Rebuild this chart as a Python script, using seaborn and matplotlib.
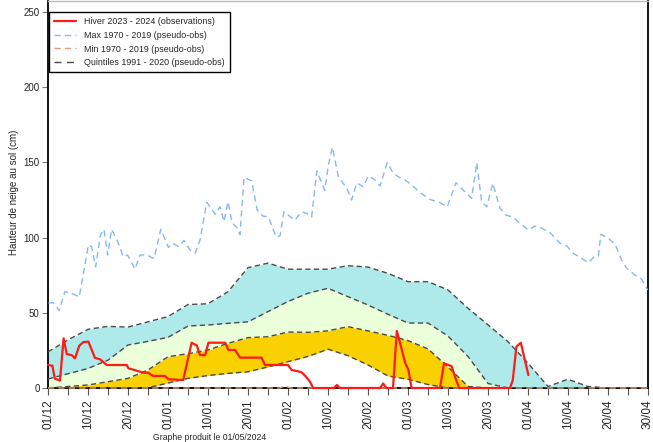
import matplotlib
matplotlib.use("Agg")
import matplotlib.pyplot as plt
import seaborn as sns
from matplotlib.lines import Line2D
from matplotlib.ticker import MultipleLocator

# x axis: 0 = 01/12, 150 = 30/04, one label every 10 units (evenly spaced)
tick_labels = ["01/12", "10/12", "20/12", "01/01", "10/01", "20/01", "01/02",
               "10/02", "20/02", "01/03", "10/03", "20/03", "01/04", "10/04",
               "20/04", "30/04"]

# quintiles, one value every 5 units
q_x = list(range(0, 151, 5))
q80 = [24, 32, 39, 41, 40.5, 44, 47.5, 55.5, 56, 64, 80, 83, 79, 79, 79, 81.3,
       80.4, 76.2, 70.7, 70.7, 65.2, 53, 42, 30.8, 16.5, 1, 5.8, 1, 0, 0, 0]
q60 = [6, 9.5, 13, 18.5, 28.6, 31, 33.7, 41.2, 41.9, 43, 44, 50.8, 57.5, 63,
       66.3, 60.7, 55.2, 49, 43.2, 43.2, 34.5, 21, 3, 0, 0, 0, 0, 0, 0, 0, 0]
q40 = [0, 1, 2, 4.2, 6.4, 12, 20.8, 22.8, 25.3, 29.7, 33.5, 34.1, 37.2, 37, 38,
       40.8, 38, 35, 31.5, 26, 14, 1, 0, 0, 0, 0, 0, 0, 0, 0, 0]
q20 = [0, 0, 0, 0, 0, 0.2, 3.3, 6.4, 8.3, 9.7, 10.8, 14, 17.5, 21, 25.8, 21.5,
       15.3, 8, 5.8, 2.3, 0, 0, 0, 0, 0, 0, 0, 0, 0, 0, 0]

# max 1970 - 2019
max_x = [0.1, 1.3, 2.8, 4.2, 5.9, 7.8, 10.1, 10.9, 11.9, 13.1, 14, 14.9, 15.9,
         17.6, 18.8, 19.9, 21.75, 23, 24.8, 26.5, 28.2, 30.1, 31.2, 32.6, 34,
         35.5, 36.8, 38, 39.7, 41.8, 43, 44, 45, 46, 47.2, 48, 49, 50.9, 52.3,
         53.8, 55.1, 57, 58, 59, 61.7, 63.4, 64.7, 65.9, 67.2, 69.2, 70.1,
         71.1, 72.6, 74.7, 75.9, 77.2, 78.8, 80.1, 81.75, 83, 84.8, 86.3,
         87.6, 89.25, 90.9, 93, 95.5, 98, 99.8, 102, 103.8, 105.9, 107.2,
         108.4, 109.7, 111.2, 113, 114.5, 116.3, 118, 120.1, 121.75, 123.4,
         125.5, 128, 129.7, 131.3, 133.4, 135.1, 136.75, 137.6, 138.2, 140.1,
         141.75, 143.4, 144.7, 146.75, 148.4, 149.9]
max_v = [56.5, 56.7, 51.5, 64, 63, 60.5, 95, 94, 80.5, 101.7, 105.5, 88.4, 105.5,
         96.2, 87.3, 88.4, 79, 88.4, 88.4, 86, 105.5, 93.5, 96.2, 94, 98.2,
         91.8, 89.6, 98.4, 123.5, 115.5, 120.5, 110.6, 123.9, 110, 106.7, 102,
         140.1, 137.7, 118.4, 114.2, 113.9, 100.6, 101.2, 117.2, 111.5, 117.2,
         116.1, 113.7, 144.4, 131.4, 148.3, 160, 140.5, 132.8, 125, 136.3,
         133.8, 141, 138.3, 134.3, 149.8, 142.8, 140.5, 138.3, 135, 129.9,
         125.4, 123.2, 120.5, 136.5, 131.6, 126.1, 149.8, 123.9, 120.5, 136.1,
         119.5, 115, 113.5, 109.5, 105, 107.7, 106.2, 103.3, 96.2, 94.4, 89.6,
         86.2, 83.3, 87.8, 87.8, 102.2, 99.5, 95.7, 85.1, 79.6, 75.1, 72.3,
         65.2]

# min 1970 - 2019
min_x = [0, 58, 59.3, 60.5, 150]
min_v = [0, 0, 1.5, 0, 0]

# hiver 2023 - 2024
obs_x = [0, 1.1, 1.7, 3, 3.9, 4.7, 5.9, 6.75, 7.8, 8.8, 10.1, 11.75, 13, 14.7,
         19.7, 20.1, 22.2, 23.8, 25, 26.3, 29.25, 30.1, 33.8, 35.9, 37.2, 38,
         39.3, 40.1, 44.3, 45.1, 46.75, 48, 53.4, 54.25, 60, 60.9, 62.2, 63.4,
         64.25, 65.5, 66.3, 71.5, 72.2, 73, 83, 83.8, 84.6, 86.25, 87.2, 88.4,
         89.25, 90.1, 90.9, 98, 99, 100.9, 101.75, 102.8, 115.5, 116.2, 117.1,
         118.2, 120.1]
obs_v = [15.3, 14.8, 6.2, 5, 33, 22.5, 21.9, 19.7, 28, 30.5, 30.8, 20, 19.1,
         15.3, 15.3, 13.1, 11.5, 10.2, 10.2, 8, 8, 5.8, 5.3, 30.1, 28.3, 21.9,
         21.9, 30.1, 30.1, 25.3, 25.3, 20.2, 20.2, 15.3, 15.3, 12, 11.3, 10.4,
         8.2, 4.2, 0, 0, 2, 0, 0, 3, 0, 0, 37.9, 26, 17, 12, 0, 0, 16.4, 14.5,
         7.5, 0, 0, 5.3, 27.5, 30.1, 8.6]

sns.set_style("ticks")
plt.rcParams["font.family"] = ["Liberation Sans", "DejaVu Sans"]
plt.rcParams["lines.scale_dashes"] = False

fig = plt.figure(figsize=(6.53, 4.42), dpi=100)
ax = fig.add_axes([48 / 653, 1 - 388 / 442, 600 / 653, 387 / 442])

# bands
ax.fill_between(q_x, q60, q80, color="#aeeaea", lw=0, zorder=1)
ax.fill_between(q_x, q40, q60, color="#eaffda", lw=0, zorder=1)
ax.fill_between(q_x, q20, q40, color="#f9d000", lw=0, zorder=1)

q_color = "#4a4a4a"
for q in (q20, q40, q60, q80):
    sns.lineplot(x=q_x, y=q, ax=ax, color=q_color, lw=1.0,
                 linestyle=(0, (3.8, 2.4)), zorder=3)

sns.lineplot(x=max_x, y=max_v, ax=ax, color="#86b8f5", lw=1.0,
             linestyle=(0, (4.5, 3.0)), zorder=3, sort=False)
sns.lineplot(x=min_x, y=min_v, ax=ax, color="#e49a78", lw=1.0,
             linestyle=(0, (4.5, 3.0)), zorder=3, clip_on=False)
sns.lineplot(x=obs_x, y=obs_v, ax=ax, color="#ff1a1a", lw=1.6, zorder=4,
             sort=False, clip_on=False)

ax.set_xlim(0, 150)
ax.set_ylim(0, 257.3)
ax.set_xticks(range(0, 151, 10))
ax.set_xticklabels(tick_labels, rotation=90, fontsize=8.5)
ax.xaxis.set_minor_locator(MultipleLocator(5))
ax.set_yticks([0, 50, 100, 150, 200, 250])
ax.tick_params(axis="y", labelsize=7, length=4, width=0.8, color="#777777",
               pad=2)
ax.tick_params(axis="x", which="both", length=5, width=0.8, color="#555555",
               pad=3)
ax.set_xlabel("")
ax.set_ylabel("")

for side in ("left", "bottom", "right"):
    ax.spines[side].set_color("black")
    ax.spines[side].set_linewidth(1.3)
ax.spines["top"].set_visible(True)
ax.spines["top"].set_color("#bbbbbb")
ax.spines["top"].set_linewidth(1.0)

handles = [
    Line2D([], [], color="#ff1a1a", lw=1.6),
    Line2D([], [], color="#86b8f5", lw=1.0, linestyle=(0, (4.5, 3.0))),
    Line2D([], [], color="#e49a78", lw=1.0, linestyle=(0, (4.5, 3.0))),
    Line2D([], [], color=q_color, lw=1.0, linestyle=(0, (5, 4))),
]
labels = ["Hiver 2023 - 2024 (observations)", "Max 1970 - 2019 (pseudo-obs)",
          "Min 1970 - 2019 (pseudo-obs)", "Quintiles 1991 - 2020 (pseudo-obs)"]
leg = ax.legend(handles, labels, loc="upper left", bbox_to_anchor=(0.002, 0.972),
                borderaxespad=0, fontsize=6.4, frameon=True, fancybox=False,
                edgecolor="black", handlelength=2.5, handletextpad=0.9,
                labelspacing=0.55, borderpad=0.55)
leg.get_frame().set_linewidth(1.0)
leg.get_frame().set_alpha(1)

fig.text(14 / 653, 1 - 192 / 442, "Hauteur de neige au sol (cm)", rotation=90,
         ha="center", va="center", fontsize=7)
fig.text(210 / 653, 1 - 437 / 442, "Graphe produit le 01/05/2024",
         ha="center", va="center", fontsize=6.2)

fig.savefig("out.png", dpi=100)
